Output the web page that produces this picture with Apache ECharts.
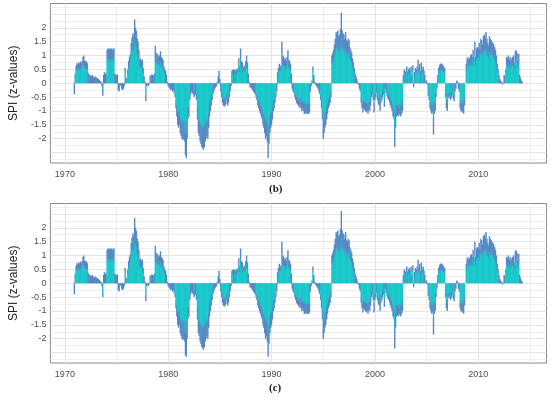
<!DOCTYPE html>
<html><head><meta charset="utf-8">
<script src="https://cdn.jsdelivr.net/npm/echarts@6/dist/echarts.min.js"></script>
<style>html,body{margin:0;padding:0;background:#fff}#c{width:550px;height:398px}</style>
</head><body><div id="c"></div>
<script>
// monthly SPI series, first value = Dec 1970
const startYear = 1970, startMonth = 12;
const spiB = [
 -0.4,
 0.35,0.62,0.72,0.68,0.75,0.7,0.78,0.72,0.8,0.95,1.0,0.82,
 0.78,0.8,0.72,0.38,0.32,0.3,0.28,0.25,0.3,0.22,0.2,0.25,
 0.22,0.2,0.18,0.15,0.12,0.08,0.05,-0.12,-0.45,0.3,0.4,0.35,
 0.35,1.2,1.25,1.25,1.22,1.25,1.25,1.2,1.25,1.25,0.35,0.3,
 0.3,0.32,-0.25,-0.3,-0.1,-0.05,-0.2,-0.25,-0.2,-0.1,0.55,0.2,
 0.15,0.5,0.8,0.95,1.05,1.45,1.65,1.8,1.7,2.3,2.0,1.9,
 1.6,1.5,1.2,0.85,0.9,0.8,0.85,0.55,0.25,0.05,-0.65,-0.1,
 -0.05,-0.1,0.02,0.25,0.3,0.32,0.3,0.28,0.35,1.35,1.1,1.0,
 1.05,0.95,1.0,1.15,0.95,0.9,0.85,0.6,0.5,0.45,0.3,0.05,
 -0.1,-0.15,-0.2,-0.25,-0.2,-0.3,-0.25,-0.35,-0.5,-0.9,-1.2,-1.5,
 -1.6,-1.5,-1.8,-1.9,-2.0,-2.05,-2.0,-2.1,-2.6,-2.7,-2.0,-1.3,
 -1.2,-0.6,-0.4,-0.3,-0.35,-0.4,-0.5,-0.45,-0.4,-0.6,-1.3,-1.8,
 -1.9,-2.1,-2.2,-2.3,-2.35,-2.4,-2.3,-2.1,-2.0,-1.9,-2.0,-1.6,
 -1.2,-1.0,-0.8,-0.6,-0.4,-0.3,-0.2,-0.15,-0.1,0.05,0.25,0.45,
 0.15,-0.3,-0.5,-0.7,-0.8,-0.85,-0.8,-0.75,-0.6,-0.8,-0.7,-0.5,
 -0.3,-0.1,0.45,0.5,0.48,0.5,0.45,0.5,0.5,0.55,0.9,0.6,
 1.25,0.8,0.75,0.55,0.6,0.65,0.8,1.0,0.75,0.35,0.05,-0.15,
 -0.15,-0.2,-0.25,-0.3,-0.35,-0.4,-0.5,-0.6,-0.8,-0.9,-1.0,-1.1,
 -1.2,-1.3,-1.5,-1.6,-1.8,-2.0,-1.9,-2.1,-2.7,-2.2,-1.8,-1.6,
 -1.5,-1.3,-1.0,-0.9,-0.7,-0.5,-0.3,0.4,0.55,0.7,0.6,0.65,
 1.5,1.0,0.95,0.85,0.9,0.8,0.95,1.2,0.85,0.8,0.7,0.35,
 -0.2,-0.3,-0.35,-0.5,-0.6,-0.7,-0.75,-0.8,-0.85,-0.9,-0.8,-1.0,
 -0.9,-1.0,-1.1,-1.1,-1.05,-1.1,-1.1,-1.1,-1.05,-0.3,-0.1,0.1,
 0.6,0.3,0.05,-0.05,-0.1,-0.15,-0.2,-0.3,-0.4,-0.6,-0.9,-1.3,
 -2.0,-1.8,-1.6,-1.5,-1.3,-1.1,-0.9,-0.8,-0.7,-0.5,1.0,1.1,
 1.2,1.4,1.6,1.85,1.8,1.9,1.7,1.75,1.95,2.55,1.9,1.8,
 1.75,1.6,1.85,1.55,1.5,1.6,1.55,1.3,1.2,1.1,0.9,0.75,
 0.55,0.35,0.25,0.15,0.05,-0.05,-0.2,-0.3,-0.7,-0.9,-1.05,-0.9,
 -0.95,-1.0,-1.05,-1.0,-1.1,-0.95,-1.0,-0.8,-0.5,-0.4,-0.6,-1.05,
 -0.6,-0.5,-0.35,-0.6,-0.75,-0.8,-1.0,-0.7,-0.6,-0.5,-0.4,-0.85,
 -0.2,-0.35,-0.45,-0.55,-0.6,-0.7,-0.8,-0.9,-1.0,-1.2,-1.3,-2.3,
 -1.6,-1.2,-1.15,-1.2,-1.1,-1.15,-1.2,-1.1,-1.0,0.3,0.5,0.4,
 0.45,0.6,0.4,0.5,0.55,0.45,0.6,0.3,0.65,-0.15,0.4,0.55,
 0.5,0.6,0.85,0.55,0.7,0.45,0.75,0.5,0.6,0.45,0.3,0.05,
 0.1,-0.05,-0.45,-0.6,-0.9,-1.0,-1.1,-1.05,-1.85,-1.1,-1.0,-0.5,
 -0.2,0.3,0.55,0.65,0.7,0.7,0.7,0.65,0.6,0.55,-0.5,-0.9,
 -1.0,-0.5,-0.55,-0.45,-0.6,-0.5,-0.4,-0.55,-0.65,-0.3,-0.2,0.1,
 0.05,-0.2,-0.3,-0.9,-1.0,-1.05,-1.0,-1.1,-0.8,0.0,0.7,0.9,
 0.95,0.85,0.9,1.0,1.05,0.95,1.2,0.9,1.5,0.95,1.25,1.3,
 1.3,1.45,1.2,1.6,1.55,1.4,1.7,1.75,1.65,1.85,1.6,1.45,
 1.35,1.7,1.6,1.55,1.5,1.45,1.4,1.3,1.2,1.0,0.7,0.5,
 0.3,0.15,0.1,0.05,-0.05,0.02,0.3,0.25,0.5,0.95,0.9,1.0,
 0.85,0.95,0.8,0.9,0.95,1.0,0.75,1.15,1.2,1.1,0.8,1.05,
 0.3,0.2,0.1,0.05
];
const spiC = [
 -0.4,
 0.35,0.62,0.72,0.68,0.75,0.7,0.78,0.72,0.8,0.95,1.0,0.82,
 0.78,0.8,0.72,0.38,0.32,0.3,0.28,0.25,0.3,0.22,0.2,0.25,
 0.22,0.2,0.18,0.15,0.12,0.08,0.05,-0.12,-0.5,0.3,0.4,0.35,
 0.35,1.2,1.25,1.25,1.22,1.25,1.25,1.2,1.25,1.25,0.35,0.3,
 0.3,0.32,-0.25,-0.3,-0.1,-0.05,-0.2,-0.25,-0.2,-0.1,0.55,0.2,
 0.15,0.5,0.8,0.95,1.05,1.45,1.65,1.8,1.7,2.35,2.0,1.9,
 1.6,1.5,1.2,0.85,0.9,0.8,0.85,0.55,0.25,0.05,-0.65,-0.1,
 -0.05,-0.1,0.02,0.25,0.3,0.32,0.3,0.28,0.35,1.35,1.1,1.0,
 1.05,0.95,1.0,1.15,0.95,0.9,0.85,0.6,0.5,0.45,0.3,0.05,
 -0.1,-0.15,-0.2,-0.25,-0.2,-0.3,-0.25,-0.35,-0.5,-0.9,-1.2,-1.5,
 -1.6,-1.5,-1.8,-1.9,-2.0,-2.05,-2.0,-2.1,-2.6,-2.65,-2.0,-1.3,
 -1.2,-0.6,-0.4,-0.3,-0.35,-0.4,-0.5,-0.45,-0.4,-0.6,-1.3,-1.8,
 -1.9,-2.1,-2.2,-2.3,-2.35,-2.4,-2.3,-2.1,-2.0,-1.9,-2.0,-1.6,
 -1.2,-1.0,-0.8,-0.6,-0.4,-0.3,-0.2,-0.15,-0.1,0.05,0.25,0.45,
 0.15,-0.3,-0.5,-0.7,-0.8,-0.85,-0.8,-0.75,-0.6,-0.8,-0.7,-0.5,
 -0.3,-0.1,0.45,0.5,0.48,0.5,0.45,0.5,0.5,0.55,0.9,0.6,
 1.25,0.8,0.75,0.55,0.6,0.65,0.8,1.0,0.75,0.35,0.05,-0.15,
 -0.15,-0.2,-0.25,-0.3,-0.35,-0.4,-0.5,-0.6,-0.8,-0.9,-1.0,-1.1,
 -1.2,-1.3,-1.5,-1.6,-1.8,-2.0,-1.9,-2.1,-2.65,-2.2,-1.8,-1.6,
 -1.5,-1.3,-1.0,-0.9,-0.7,-0.5,-0.3,0.4,0.55,0.7,0.6,0.65,
 1.5,1.0,0.95,0.85,0.9,0.8,0.95,1.2,0.85,0.8,0.7,0.35,
 -0.2,-0.3,-0.35,-0.5,-0.6,-0.7,-0.75,-0.8,-0.85,-0.9,-0.8,-1.0,
 -0.9,-1.0,-1.1,-1.1,-1.05,-1.1,-1.1,-1.1,-1.05,-0.3,-0.1,0.1,
 0.6,0.3,0.05,-0.05,-0.1,-0.15,-0.2,-0.3,-0.4,-0.6,-0.9,-1.3,
 -2.0,-1.8,-1.6,-1.5,-1.3,-1.1,-0.9,-0.8,-0.7,-0.5,1.0,1.1,
 1.2,1.4,1.6,1.85,1.8,1.9,1.7,1.75,1.95,2.6,1.9,1.8,
 1.75,1.6,1.85,1.55,1.5,1.6,1.55,1.3,1.2,1.1,0.9,0.75,
 0.55,0.35,0.25,0.15,0.05,-0.05,-0.2,-0.3,-0.7,-0.9,-1.05,-0.9,
 -0.95,-1.0,-1.05,-1.0,-1.1,-0.95,-1.0,-0.8,-0.5,-0.4,-0.6,-1.05,
 -0.6,-0.5,-0.35,-0.6,-0.75,-0.8,-1.0,-0.7,-0.6,-0.5,-0.4,-0.85,
 -0.2,-0.35,-0.45,-0.55,-0.6,-0.7,-0.8,-0.9,-1.0,-1.2,-1.3,-2.35,
 -1.6,-1.2,-1.15,-1.2,-1.1,-1.15,-1.2,-1.1,-1.0,0.3,0.5,0.4,
 0.45,0.6,0.4,0.5,0.55,0.45,0.6,0.3,0.65,-0.15,0.4,0.55,
 0.5,0.6,0.85,0.55,0.7,0.45,0.75,0.5,0.6,0.45,0.3,0.05,
 0.1,-0.05,-0.45,-0.6,-0.9,-1.0,-1.1,-1.05,-1.85,-1.1,-1.0,-0.5,
 -0.2,0.3,0.55,0.65,0.7,0.7,0.7,0.65,0.6,0.55,-0.5,-0.9,
 -1.0,-0.5,-0.55,-0.45,-0.6,-0.5,-0.4,-0.55,-0.65,-0.3,-0.2,0.1,
 0.05,-0.2,-0.3,-0.9,-1.0,-1.05,-1.0,-1.1,-0.8,0.0,0.7,0.9,
 0.95,0.85,0.9,1.0,1.05,0.95,1.2,0.9,1.5,0.95,1.25,1.3,
 1.3,1.45,1.2,1.6,1.55,1.4,1.7,1.75,1.65,1.85,1.6,1.45,
 1.35,1.7,1.6,1.55,1.5,1.45,1.4,1.3,1.2,1.0,0.7,0.5,
 0.3,0.15,0.1,0.05,-0.05,0.02,0.3,0.25,0.5,0.95,0.9,1.0,
 0.85,0.95,0.8,0.9,0.95,1.0,0.75,1.15,1.2,1.1,0.8,1.05,
 0.3,0.2,0.1,0.05
];
const xTickLabels = [1970, 1980, 1990, 2000, 2010];
const xGridValues = [1970, 1975, 1980, 1985, 1990, 1995, 2000, 2005, 2010, 2015];
const yTickLabels = [-2, -1.5, -1, -0.5, 0, 0.5, 1, 1.5, 2];
const yGridValues = [-2.75,-2.5,-2.25,-2,-1.75,-1.5,-1.25,-1,-0.75,-0.5,-0.25,0,0.25,0.5,0.75,1,1.25,1.5,1.75,2,2.25,2.5,2.75];
const panelLabels = ['(b)', '(c)'];

const BLUE = '#5587c5', CYAN = '#17c7c9';
const FONT = 'Liberation Sans, Arial, sans-serif';

function barColor(v) {
  if (Math.abs(v) < 0.5) return BLUE;
  const stops = v > 0
    ? [{offset:0,color:BLUE},{offset:0.28,color:BLUE},{offset:0.36,color:CYAN},{offset:1,color:CYAN}]
    : [{offset:0,color:CYAN},{offset:0.64,color:CYAN},{offset:0.72,color:BLUE},{offset:1,color:BLUE}];
  return new echarts.graphic.LinearGradient(0, 0, 0, 1, stops);
}
function buildItems(arr) {
  return arr.map((v, i) => ({
    value: [startYear + (startMonth - 1 + i) / 12, v],
    itemStyle: { color: barColor(v) }
  }));
}

const grids = [
  { left: 38.5, top: 3.5, width: 508, height: 159.5, show: true, borderColor: '#8a8a8a', borderWidth: 1, backgroundColor: '#fff' },
  { left: 38.5, top: 203.5, width: 508, height: 159.5, show: true, borderColor: '#8a8a8a', borderWidth: 1, backgroundColor: '#fff' }
];
const xAxes = grids.map((g, i) => ({
  type: 'value', gridIndex: i, min: 1968.6, max: 2016.6,
  axisLine: { show: false },
  axisTick: { show: false, customValues: xGridValues },
  axisLabel: { customValues: xTickLabels, formatter: v => String(v), fontSize: 9, color: '#4d4d4d', margin: 7, fontFamily: FONT },
  splitLine: { show: true, lineStyle: { color: ['#e3e3e3', '#eeeeee'], width: 1 } }
}));
const yAxes = grids.map((g, i) => ({
  type: 'value', gridIndex: i, min: -2.875, max: 2.875,
  name: 'SPI (z-values)', nameLocation: 'middle', nameGap: 23,
  nameTextStyle: { fontSize: 12, color: '#222', fontFamily: FONT },
  axisLine: { show: false },
  axisTick: { show: false, customValues: yGridValues },
  axisLabel: { customValues: yTickLabels, formatter: v => String(v), fontSize: 9, color: '#4d4d4d', margin: 4, fontFamily: FONT },
  splitLine: { show: true, lineStyle: { color: ['#efefef', '#e3e3e3'], width: 1 } }
}));
const series = [spiB, spiC].map((arr, i) => ({
  type: 'bar', xAxisIndex: i, yAxisIndex: i, barWidth: 1.4,
  data: buildItems(arr), silent: true
}));

const chart = echarts.init(document.getElementById('c'), null, { renderer: 'canvas' });
chart.setOption({
  animation: false,
  backgroundColor: '#fff',
  grid: grids, xAxis: xAxes, yAxis: yAxes, series: series,
  graphic: [
    { type: 'text', left: 269, top: 184, style: { text: panelLabels[0], font: 'bold 11px "Liberation Serif", "Times New Roman", serif', fill: '#222' } },
    { type: 'text', left: 269, top: 383, style: { text: panelLabels[1], font: 'bold 11px "Liberation Serif", "Times New Roman", serif', fill: '#222' } }
  ]
});
</script>
</body></html>
